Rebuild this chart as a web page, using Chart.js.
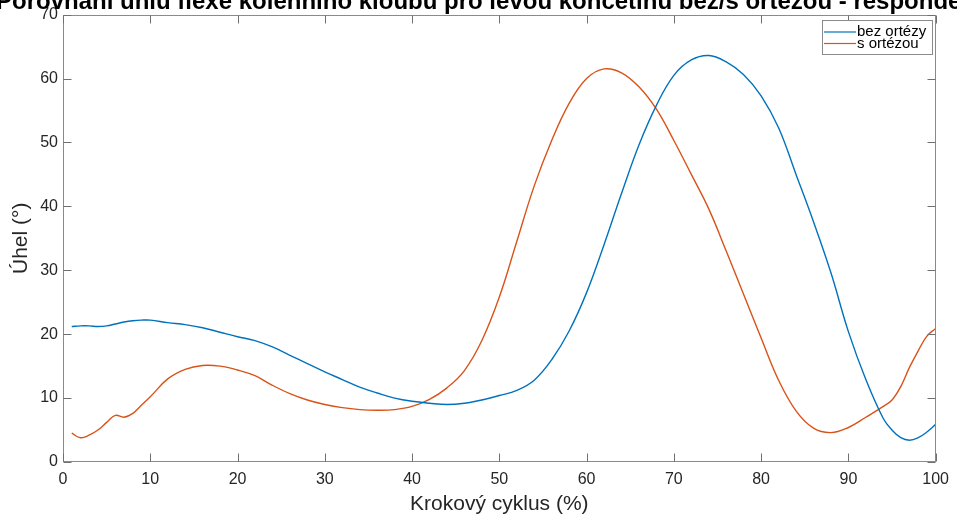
<!DOCTYPE html>
<html>
<head>
<meta charset="utf-8">
<script src="https://cdn.jsdelivr.net/npm/chart.js@4"></script>
<style>
  html, body { margin: 0; padding: 0; background: #ffffff; }
  #wrap { width: 957px; height: 517px; position: relative; }
</style>
</head>
<body>
<div id="wrap"><canvas id="c" width="957" height="517"></canvas></div>
<script>
const TITLE = "Porovnání úhlu flexe kolenního kloubu pro levou končetinu bez/s ortézou - respondent 1";
const X_LABEL = "Krokový cyklus (%)";
const Y_LABEL = "Úhel (°)";
const SERIES_NAMES = ["bez ortézy", "s ortézou"];

const CYCLE = [1,2,3,4,5,6,7,8,9,10,12,14,16,18,20,22,24,26,28,30,32,34,36,38,40,42,44,46,48,50,52,54,56,58,60,62,64,66,68,70,72,74,76,78,80,82,84,86,88,90,92,94,95,96,97,98,99,100];

const BEZ_ORTEZY = [21.2,21.3,21.3,21.2,21.3,21.6,21.9,22.1,22.2,22.2,21.8,21.5,21.0,20.3,19.6,19.0,18.0,16.7,15.4,14.1,12.9,11.7,10.8,10.0,9.5,9.2,9.0,9.2,9.7,10.4,11.2,12.8,16.0,20.5,26.5,34.0,42.0,49.6,55.8,60.5,62.9,63.6,62.6,60.6,57.3,52.3,45.0,37.6,29.6,20.4,12.9,6.8,5.0,3.8,3.4,3.8,4.7,5.9];

const S_ORTEZOU = [4.5,3.8,4.2,5.0,6.2,7.3,7.0,7.6,8.9,10.2,13.0,14.5,15.1,15.0,14.4,13.5,12.0,10.7,9.7,9.0,8.5,8.2,8.1,8.2,8.7,9.8,11.6,14.3,19.0,25.8,34.5,43.2,50.3,56.1,60.0,61.5,60.9,58.7,55.2,50.3,45.0,39.6,33.0,26.2,19.4,12.8,8.0,5.3,4.6,5.4,7.0,8.7,9.7,11.8,14.8,17.4,19.7,20.9];

const X_TICKS = [0,10,20,30,40,50,60,70,80,90,100];
const Y_TICKS = [0,10,20,30,40,50,60,70];

const COLORS = ["#0072BD", "#D95319"];
const FONT = "'Liberation Sans', Arial, Helvetica, sans-serif";

function pts(xs, ys) { return xs.map((x, i) => ({ x: x, y: ys[i] })); }

const boxPlugin = {
  id: 'matlabBox',
  afterDraw(chart) {
    const ctx = chart.ctx;
    const a = chart.chartArea;
    const xs = chart.scales.x, ys = chart.scales.y;
    ctx.save();
    // box
    ctx.strokeStyle = '#8a8a8a';
    ctx.lineWidth = 1;
    const L = Math.round(a.left) + 0.5, R = Math.round(a.right) - 0.5;
    const T = Math.round(a.top) + 0.5, B = Math.round(a.bottom) - 0.5;
    ctx.strokeRect(L, T, R - L, B - T);
    // inward ticks
    ctx.strokeStyle = '#707070';
    const tl = 8;
    ctx.beginPath();
    X_TICKS.forEach(v => {
      const px = Math.round(xs.getPixelForValue(v)) + 0.5;
      ctx.moveTo(px, B); ctx.lineTo(px, B - tl);
      ctx.moveTo(px, T); ctx.lineTo(px, T + tl);
    });
    Y_TICKS.forEach(v => {
      const py = Math.round(ys.getPixelForValue(v)) + 0.5;
      ctx.moveTo(L, py); ctx.lineTo(L + tl, py);
      ctx.moveTo(R, py); ctx.lineTo(R - tl, py);
    });
    ctx.stroke();

    // legend
    const lx = 822, ly = 20, lw = 110, lh = 34;
    ctx.fillStyle = '#ffffff';
    ctx.fillRect(lx, ly, lw, lh);
    ctx.strokeStyle = '#8a8a8a';
    ctx.strokeRect(lx + 0.5, ly + 0.5, lw, lh);
    ctx.font = "15px " + FONT;
    ctx.textBaseline = 'middle';
    ctx.textAlign = 'left';
    chart.data.datasets.forEach((ds, i) => {
      const cy = ly + 12 + i * 11.5;
      ctx.strokeStyle = ds.borderColor;
      ctx.lineWidth = 1.2;
      ctx.beginPath();
      ctx.moveTo(lx + 2, cy); ctx.lineTo(lx + 34, cy);
      ctx.stroke();
      ctx.fillStyle = '#000000';
      ctx.fillText(ds.label, lx + 35, cy);
    });

    // title (clipped at the top like the reference)
    ctx.font = "bold 24px " + FONT;
    ctx.fillStyle = '#000000';
    ctx.textAlign = 'left';
    ctx.textBaseline = 'alphabetic';
    ctx.fillText(TITLE, -4, 9);
    ctx.restore();
  }
};

new Chart(document.getElementById('c'), {
  type: 'line',
  data: {
    datasets: [
      { label: SERIES_NAMES[0], data: pts(CYCLE, BEZ_ORTEZY), borderColor: COLORS[0], backgroundColor: COLORS[0], borderWidth: 1.4, pointRadius: 0, tension: 0.4, fill: false },
      { label: SERIES_NAMES[1], data: pts(CYCLE, S_ORTEZOU), borderColor: COLORS[1], backgroundColor: COLORS[1], borderWidth: 1.4, pointRadius: 0, tension: 0.4, fill: false }
    ]
  },
  options: {
    responsive: false,
    animation: false,
    layout: { padding: { top: 13, right: 17, left: 0, bottom: 0 } },
    plugins: { legend: { display: false }, title: { display: false }, tooltip: { enabled: false } },
    scales: {
      x: {
        type: 'linear', min: 0, max: 100,
        afterFit(s) { s.height = 55; },
        afterBuildTicks(s) { s.ticks = X_TICKS.map(v => ({ value: v })); },
        grid: { display: false, drawTicks: false },
        border: { display: false },
        ticks: { color: '#262626', font: { family: FONT, size: 16 }, padding: 8, maxRotation: 0, autoSkip: false },
        title: { display: true, text: X_LABEL, color: '#262626', font: { family: FONT, size: 21 }, padding: { top: 0, bottom: 0 } }
      },
      y: {
        type: 'linear', min: 0, max: 70,
        afterFit(s) { s.width = 63; },
        afterBuildTicks(s) { s.ticks = Y_TICKS.map(v => ({ value: v })); },
        grid: { display: false, drawTicks: false },
        border: { display: false },
        ticks: { color: '#262626', font: { family: FONT, size: 16 }, padding: 5, autoSkip: false },
        title: { display: true, text: Y_LABEL, color: '#262626', font: { family: FONT, size: 21 }, padding: { top: 9, bottom: 0 } }
      }
    }
  },
  plugins: [boxPlugin]
});
</script>
</body>
</html>
